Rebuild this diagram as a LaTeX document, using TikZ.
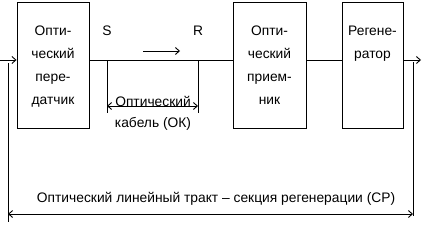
\documentclass[tikz,border=0pt]{standalone}
\usepackage{fontspec}
\setmainfont{Liberation Sans}
\usepackage{tikz}
\usetikzlibrary{arrows.meta,positioning,calc}

\begin{document}
\begin{tikzpicture}[x=1pt, y=-1pt,
      blok/.style={draw, line width=0.9pt, minimum height=126pt, inner sep=0pt},
      blktxt/.style={align=center, inner sep=0pt, font=\fontsize{13.8}{23}\selectfont},
      lbl/.style={inner sep=0pt, font=\fontsize{13.8}{15}\selectfont},
      wire/.style={line width=0.9pt},
      arrow/.style={-{Straight Barb[length=4pt,width=7pt]}, line width=0.9pt},
      dim/.style={{Straight Barb[length=4pt,width=7pt]}-{Straight Barb[length=4pt,width=7pt]}, line width=0.9pt}
    ]
      \useasboundingbox (0,0) rectangle (425,225);

      % --- blocks of the section ---
      \node[blok, minimum width=72pt] (tx)  at (53,65) {};
      \node[blok, minimum width=73pt] (rx)  at (269.5,65) {};
      \node[blok, minimum width=61pt] (reg) at (372.5,65) {};

      \node[blktxt, below=24pt of tx.north]  (txt)  {Опти-\\ческий\\пере-\\датчик};
      \node[blktxt, below=24pt of rx.north]  (rxt)  {Опти-\\ческий\\прием-\\ник};
      \node[blktxt, below=24pt of reg.north] (regt) {Регене-\\ратор};

      % --- line through the blocks ---
      \coordinate (in)  at (0,60);
      \coordinate (out) at (421,60);
      \coordinate (S)   at (107,60);
      \coordinate (R)   at (198,60);
      \draw[arrow] (in) -- (in -| tx.west);
      \draw[wire] (in -| tx.east) -- (in -| rx.west);
      \draw[wire] (in -| rx.east) -- (in -| reg.west);
      \draw[arrow] (in -| reg.east) -- (out);

      % --- optical cable S -- R ---
      \node[lbl, above=24pt of S] (sl) {S};
      \node[lbl, above=24pt of R] (rl) {R};
      \coordinate (dirA) at (143,51);
      \coordinate (dirB) at (180,51);
      \draw[arrow] (dirA) -- (dirB);
      \draw[wire] (S) -- ++(0,53) coordinate (Sb);
      \draw[wire] (R) -- ++(0,53) coordinate (Rb);
      \draw[dim] ($(Sb)+(0,-7)$) -- ($(Rb)+(0,-7)$);
      \node[lbl] (ok1) at (153,101) {Оптический};
      \node[lbl] (ok2) at (153,124) {кабель (ОК)};

      % --- regeneration section ---
      \coordinate (lt) at (8,63);
      \coordinate (rt) at (413,62);
      \draw[wire] (lt) -- ++(0,159) coordinate (lb);
      \draw[wire] (rt) -- ++(0,154) coordinate (rb);
      \draw[dim] ($(lt)+(0,151)$) -- ($(rt)+(0,152)$);
      \node[lbl] (sec) at (216,199) {Оптический линейный тракт – секция регенерации (СР)};
    \end{tikzpicture}
\end{document}
